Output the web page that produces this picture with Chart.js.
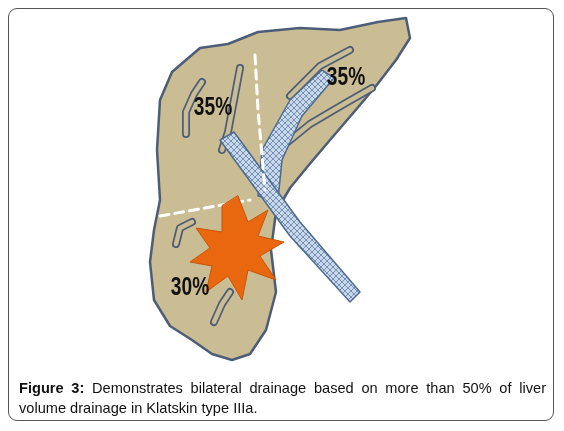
<!DOCTYPE html>
<html><head><meta charset="utf-8">
<script src="https://cdn.jsdelivr.net/npm/chart.js@4.4.1/dist/chart.umd.min.js"></script>
<style>
html,body{margin:0;padding:0;background:#fff;width:564px;height:431px;overflow:hidden}
#box{position:absolute;left:8px;top:8px;width:546px;height:413px;border:1px solid #555;border-radius:9px;box-sizing:border-box}
#wrap{position:absolute;left:0;top:0;width:564px;height:431px}
#cap{position:absolute;left:19px;top:378px;width:527px;font-family:"Liberation Sans",Arial,sans-serif;font-size:14.6px;line-height:20px;color:#111;text-align:justify;text-align-last:left}
</style></head><body>
<div id="box"></div>
<div id="wrap"><canvas id="c"></canvas></div>
<div id="cap"><b>Figure 3:</b> Demonstrates bilateral drainage based on more than 50% of liver volume drainage in Klatskin type IIIa.</div>
<script>
// shape outlines in figure units (0..564 by 0..431, y down)
const liverOutline = [[160,100],[172,72],[200,48],[228,44],[258,32],[300,28],[340,30],[378,22],[406,18],[410,38],[396,60],[376,86],[354,112],[330,140],[308,166],[290,188],[276,212],[271,250],[276,292],[266,330],[250,354],[232,360],[212,354],[192,340],[170,326],[154,300],[150,262],[154,230],[160,200],[157,150]];
const ductLeft = [[220,140],[234,132],[300,222],[360,292],[350,302],[290,236]];
const ductRight = [[258,196],[262,150],[290,100],[322,70],[334,78],[302,116],[282,160],[278,200]];
const starPoints = [[238,196],[248,222],[268,210],[258,236],[284,242],[260,256],[276,280],[248,270],[242,300],[228,276],[206,292],[212,266],[190,262],[210,248],[196,228],[222,232],[222,206]];
const dashLines = [[[255,55],[258,110],[265,190]],[[160,216],[205,208],[250,200]]];
const branches = [
  [[186,134],[186,112],[194,94],[202,82]],
  [[240,68],[234,100],[228,132],[222,150]],
  [[290,96],[320,66],[350,50]],
  [[278,150],[310,124],[344,104],[372,88]],
  [[176,244],[180,228],[192,222]],
  [[214,322],[222,304],[230,292]]
];
const labels = ["35%","35%","30%"];
const labelPos = [[213,108],[346,78],[190,288]];

const hatch = (() => {
  const p = document.createElement('canvas'); p.width = 6; p.height = 6;
  const g = p.getContext('2d');
  g.fillStyle = '#c9d9ea'; g.fillRect(0,0,6,6);
  g.strokeStyle = '#5f7fa8'; g.lineWidth = 0.8;
  g.beginPath(); g.moveTo(0,0); g.lineTo(6,6); g.moveTo(6,0); g.lineTo(0,6); g.stroke();
  return g.createPattern(p,'repeat');
})();

const figurePlugin = {
  id: 'figure',
  afterDatasetsDraw(chart) {
    const {ctx, scales: {x, y}} = chart;
    const px = p => [x.getPixelForValue(p[0]), y.getPixelForValue(p[1])];
    const path = (pts, close) => {
      ctx.beginPath();
      pts.forEach((p, i) => { const [a, b] = px(p); i ? ctx.lineTo(a, b) : ctx.moveTo(a, b); });
      if (close) ctx.closePath();
    };
    ctx.save();
    ctx.lineJoin = 'round'; ctx.lineCap = 'round';
    path(liverOutline, true);
    ctx.fillStyle = '#cbbd93'; ctx.fill();
    ctx.strokeStyle = '#4d5d78'; ctx.lineWidth = 2.5; ctx.stroke();
    branches.forEach(b => {
      path(b); ctx.strokeStyle = '#4d5d78'; ctx.lineWidth = 8; ctx.stroke();
      path(b); ctx.strokeStyle = '#cbbd93'; ctx.lineWidth = 4.5; ctx.stroke();
    });
    [ductRight, ductLeft].forEach(d => {
      path(d, true); ctx.fillStyle = hatch; ctx.fill();
      ctx.strokeStyle = '#4d6a90'; ctx.lineWidth = 1.5; ctx.stroke();
    });
    ctx.setLineDash([9, 6]);
    dashLines.forEach(l => { path(l); ctx.strokeStyle = '#ffffff'; ctx.lineWidth = 3; ctx.stroke(); });
    ctx.setLineDash([]);
    path(starPoints, true);
    ctx.fillStyle = '#e8670f'; ctx.fill();
    ctx.strokeStyle = '#c9550a'; ctx.lineWidth = 1; ctx.stroke();
    ctx.fillStyle = '#111'; ctx.font = 'bold 24px "Liberation Sans",Arial,sans-serif';
    ctx.textAlign = 'center'; ctx.textBaseline = 'middle';
    labels.forEach((t, i) => {
      const [a, b] = px(labelPos[i]);
      ctx.save(); ctx.translate(a, b); ctx.scale(0.8, 1.1); ctx.fillText(t, 0, 0); ctx.restore();
    });
    ctx.restore();
  }
};

new Chart(document.getElementById('c'), {
  type: 'scatter',
  data: { datasets: [{ data: [], pointRadius: 0 }] },
  options: {
    responsive: true, maintainAspectRatio: false, animation: false,
    layout: { padding: 0 },
    plugins: { legend: { display: false }, tooltip: { enabled: false } },
    scales: {
      x: { type: 'linear', min: 0, max: 564, display: false },
      y: { type: 'linear', min: 0, max: 431, reverse: true, display: false }
    }
  },
  plugins: [figurePlugin]
});
</script>
</body></html>
